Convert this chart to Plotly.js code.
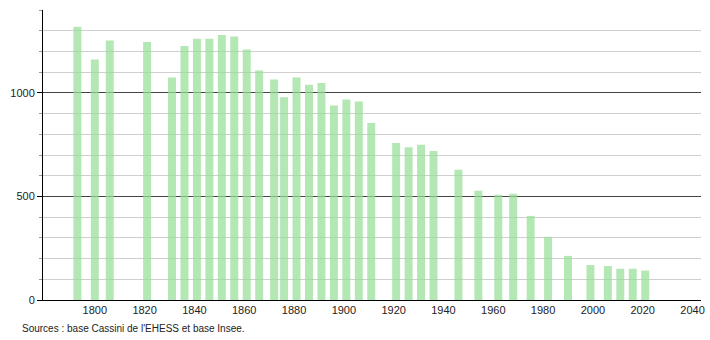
<!DOCTYPE html>
<html>
<head>
<meta charset="utf-8">
<script src="https://cdn.plot.ly/plotly-3.0.1.min.js"></script>
<style>html,body{margin:0;padding:0;background:#fff;}#chart{width:710px;height:340px;}</style>
</head>
<body>
<div id="chart"></div>
<script>
const years = [1793,1800,1806,1821,1831,1836,1841,1846,1851,1856,1861,1866,1872,1876,1881,1886,1891,1896,1901,1906,1911,1921,1926,1931,1936,1946,1954,1962,1968,1975,1982,1990,1999,2006,2011,2016,2021];
const population = [1319,1161,1253,1245,1074,1226,1261,1261,1279,1272,1209,1108,1064,979,1074,1039,1048,939,968,958,855,758,737,750,719,629,527,508,513,406,305,213,169,164,151,151,142];
const xTickVals = [1800,1820,1840,1860,1880,1900,1920,1940,1960,1980,2000,2020,2040];
const yTickVals = [0,500,1000];
const sourceText = "Sources : base Cassini de l'EHESS et base Insee.";

const trace = {
  type: 'bar',
  x: years,
  y: population,
  width: 3.2,
  marker: {color: 'rgba(150,222,150,0.72)', line: {width: 0}},
  hoverinfo: 'x+y'
};

const layout = {
  width: 710, height: 340,
  margin: {l: 43, r: 9, t: 10, b: 40},
  paper_bgcolor: '#fff', plot_bgcolor: '#fff',
  showlegend: false,
  font: {family: 'Liberation Sans, Arial, sans-serif', size: 11, color: '#222'},
  xaxis: {
    range: [1779.2, 2043.4],
    tickvals: xTickVals,
    showgrid: false, zeroline: false,
    showline: true, linecolor: '#000', linewidth: 1,
    ticks: '', ticklen: 0,
    tickfont: {size: 11, color: '#222'}
  },
  yaxis: {
    range: [0, 1400],
    tickvals: yTickVals,
    showgrid: true, gridcolor: '#444', gridwidth: 1,
    zeroline: false,
    showline: true, linecolor: '#000', linewidth: 1,
    ticks: 'outside', ticklen: 5, tickcolor: '#000',
    tickfont: {size: 11, color: '#222'},
    minor: {dtick: 100, showgrid: true, gridcolor: '#cfcfcf', gridwidth: 1, ticks: 'outside', ticklen: 3, tickcolor: '#999'}
  },
  annotations: [{
    text: sourceText, xref: 'paper', yref: 'paper',
    x: -0.035, y: -0.072, xanchor: 'left', yanchor: 'top',
    showarrow: false, font: {size: 10, color: '#222'}
  }]
};

Plotly.newPlot('chart', [trace], layout, {staticPlot: true});
</script>
</body>
</html>
